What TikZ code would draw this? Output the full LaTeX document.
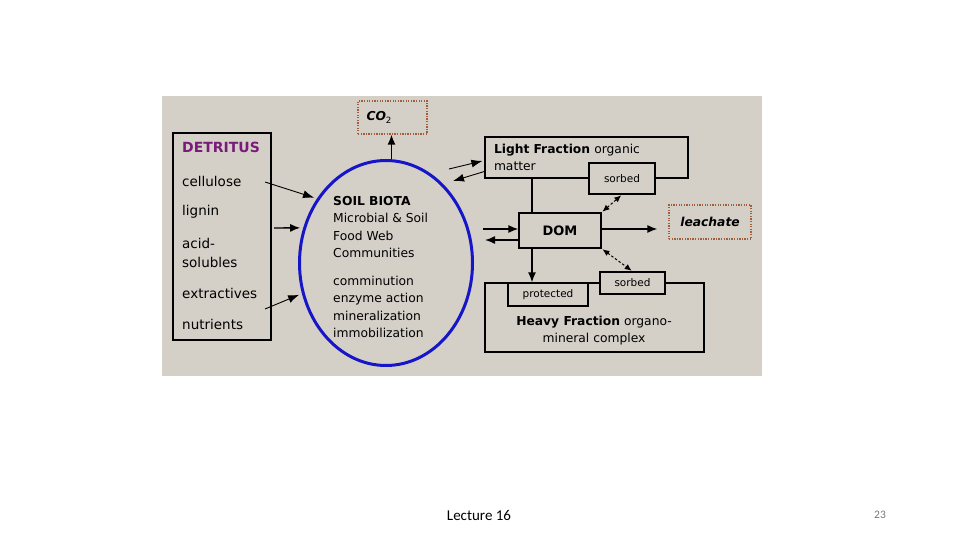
\documentclass[tikz,border=0pt]{standalone}
\usepackage{fontspec}
\setmainfont{DejaVu Sans}
\newfontfamily\footfont{Carlito}
\usetikzlibrary{shapes.geometric,arrows.meta}

\definecolor{panelgray}{RGB}{212,208,200}
\definecolor{detpurple}{RGB}{122,26,122}
\definecolor{biotablue}{RGB}{22,22,200}
\definecolor{dotbrown}{RGB}{160,95,60}
\definecolor{pagegray}{RGB}{120,120,120}

\tikzset{
  box/.style={draw=black, line width=1.3pt, fill=panelgray, inner sep=0pt},
  dotbox/.style={draw=dotbrown, line width=1.3pt, dash pattern=on 1.3pt off 1.3pt, inner sep=0pt},
  arr/.style={line width=1.4pt, -{Latex[length=10pt,width=8pt]}},
  thinarr/.style={line width=0.9pt, -{Latex[length=11pt,width=8pt]}},
  dasharr/.style={line width=1pt, dash pattern=on 2.5pt off 2pt,
    {Latex[length=7pt,width=6pt]}-{Latex[length=7pt,width=6pt]}},
  item/.style={anchor=west, inner sep=0pt, align=left, font=\fontsize{13.5}{19}\selectfont},
  txt/.style={anchor=west, inner sep=0pt, align=left, font=\fontsize{12.3}{17.4}\selectfont},
  small/.style={font=\fontsize{10.5}{12}\selectfont},
}

\begin{document}
\begin{tikzpicture}[x=1pt,y=-1pt]
    \useasboundingbox (0,0) rectangle (960,540);
    % grey panel
    \fill[panelgray] (162,96) rectangle (762,376);

    % DETRITUS
    \node[box, minimum width=98pt, minimum height=207pt] (detritus) at (222,236.5) {};
    \node[item, font=\fontsize{14}{17}\selectfont\bfseries, text=detpurple] (dettitle) at (182,147) {DETRITUS};
    \foreach \nm/\y/\txt in {cell/181/cellulose, lig/212/lignin, acid/252.5/{acid-\\solubles},
                            extr/293/extractives, nutr/324/nutrients}
        \node[item] (\nm) at (182,\y) {\txt};

    % soil biota
    \node[draw=biotablue, line width=3pt, ellipse, inner sep=0pt,
          minimum width=173pt, minimum height=205pt] (biota) at (386,263) {};
    \node[txt] (biotatxt) at (333,227) {\textbf{SOIL BIOTA}\\Microbial \& Soil\\Food Web\\Communities};
    \node[txt] (process) at (333,307) {comminution\\enzyme action\\mineralization\\immobilization};

    % CO2
    \node[dotbox, minimum width=69pt, minimum height=33pt, text width=52pt, inner xsep=8.5pt,
          align=left, font=\fontsize{12.3}{14}\selectfont] (co2) at (392.5,117.5) {\textbf{\textit{CO}}\textsubscript{2}};
    \draw[arr] ([xshift=5.5pt]biota.north) -- ([xshift=5.5pt]biota.north |- co2.south);

    % detritus -> biota
    \coordinate (cellend) at (265,182);
    \coordinate (ligend) at (274,228);
    \coordinate (extrend) at (265,309);
    \draw[thinarr, shorten >=3pt] (cellend) -- (biota.137);
    \draw[arr, shorten >=3pt] (ligend) -- (biota.157);
    \draw[thinarr, shorten >=3pt] (extrend) -- (biota.200);

    % light fraction
    \node[box, minimum width=203pt, minimum height=41pt, text width=185pt, inner xsep=9pt,
          align=left, font=\fontsize{12.3}{17}\selectfont] (light) at (586.5,157.5)
          {\textbf{Light Fraction} organic\\matter};
    \node[box, small, minimum width=66pt, minimum height=31pt] (sorbtop) at (622,178.5) {sorbed};
    \coordinate (lfin) at (449,169);
    \coordinate (lfout) at (453,181);
    \draw[thinarr, shorten >=2pt] (lfin) -- ([yshift=-3pt]light.west);
    \draw[thinarr] ([yshift=-14pt]light.west) -- (lfout);

    % DOM
    \node[box, minimum width=82pt, minimum height=35pt, font=\fontsize{13}{15}\selectfont\bfseries] (dom) at (560,230.5) {DOM};
    \draw[line width=1.3pt] ([xshift=-28pt]dom.north) -- ([xshift=-28pt]dom.north |- light.south);
    \coordinate (domin) at (483,229);
    \coordinate (domout) at (485,240);
    \draw[arr] (domin) -- ([yshift=1.5pt]dom.west);
    \draw[arr] ([yshift=-9.5pt]dom.west) -- (domout);

    % leachate
    \node[dotbox, minimum width=82pt, minimum height=34pt, font=\fontsize{12.3}{14}\selectfont\bfseries\itshape] (leach) at (710,222) {leachate};
    \draw[arr, shorten >=11pt] ([yshift=1.5pt]dom.east) -- ([yshift=1.5pt]dom.east -| leach.west);

    % heavy fraction
    \node[box, minimum width=219pt, minimum height=69pt] (heavy) at (594.5,317.5) {};
    \node[box, small, minimum width=80pt, minimum height=23pt] (protect) at (548,294.5) {protected};
    \node[box, small, minimum width=65pt, minimum height=22pt] (sorbbot) at (632.5,283) {sorbed};
    \node[align=center, inner sep=0pt, font=\fontsize{12.3}{17}\selectfont] (heavytxt) at (594,331)
          {\textbf{Heavy Fraction} organo-\\mineral complex};
    \draw[arr] ([xshift=-28pt]dom.south) -- ([xshift=-28pt]dom.south |- heavy.north);

    % sorbed exchange
    \draw[dasharr, shorten <=1pt, shorten >=1pt] (dom.north east) -- (sorbtop.south);
    \draw[dasharr, shorten <=1pt, shorten >=1pt] (dom.south east) -- (sorbbot.north);

    % footer
    \node[font=\footfont\fontsize{15}{17}\selectfont] (lecture) at (479,515) {Lecture 16};
    \node[font=\footfont\fontsize{11.5}{13}\selectfont, text=pagegray] (pagenum) at (880,515) {23};
\end{tikzpicture}
\end{document}
